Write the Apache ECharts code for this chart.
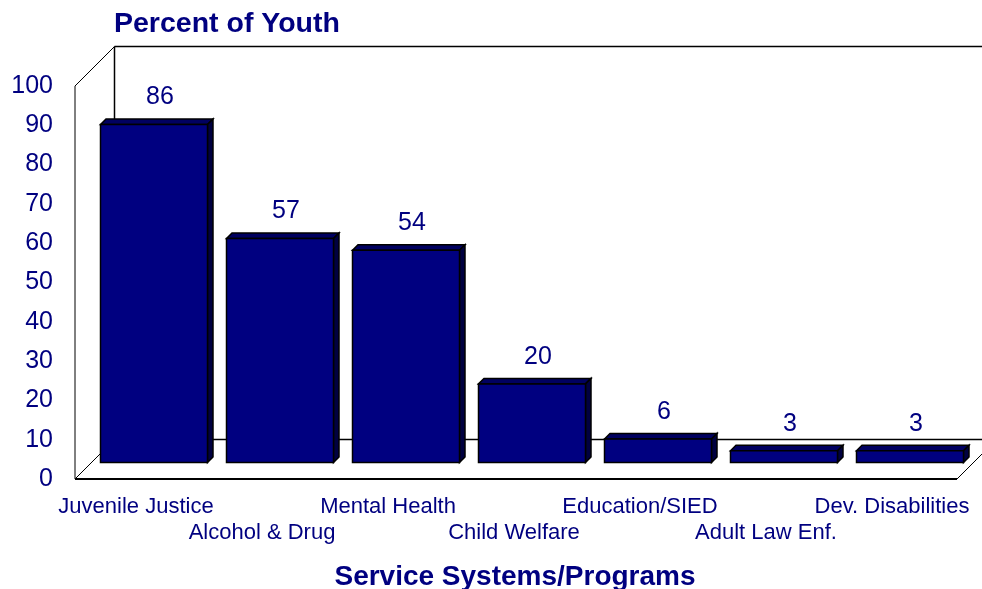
<!DOCTYPE html>
<html><head><meta charset="utf-8">
<style>html,body{margin:0;padding:0;background:#fff}#c{width:982px;height:589px}</style>
<script src="https://cdn.jsdelivr.net/npm/echarts@6/dist/echarts.min.js"></script>
</head><body><div id="c"></div>
<script>
const categories = ['Juvenile Justice','Alcohol & Drug','Mental Health','Child Welfare','Education/SIED','Adult Law Enf.','Dev. Disabilities'];
const values = [86,57,54,20,6,3,3];
const yTicks = [0,10,20,30,40,50,60,70,80,90,100];
const NAVY='#000080', TEXT='#000080';
const DEPTH=39.5, MID_X=16, MID_Y=16.5, BAR_D=5.5, BAR_W=107;
const chart = echarts.init(document.getElementById('c'),null,{renderer:'canvas'});
function frame(params,api){
  const band=api.size([1,0])[0];
  const x0=api.coord([0,0])[0]-band/2, x1=api.coord([categories.length-1,0])[0]+band/2;
  const y0=api.coord([0,0])[1], yt=api.coord([0,100])[1];
  const line=(a,b,c,d,w)=>({type:'line',shape:{x1:a,y1:b,x2:c,y2:d},style:{stroke:'#000',lineWidth:w}});
  return {type:'group',children:[
    line(x0,y0,x0,yt,1),
    line(x0,yt,x0+DEPTH,yt-DEPTH,1),
    line(x0+DEPTH,yt-DEPTH,x0+DEPTH,y0-DEPTH,1.5),
    line(x0+DEPTH,yt-DEPTH,x1+DEPTH,yt-DEPTH,1.5),
    line(x0+DEPTH,y0-DEPTH,x1+DEPTH,y0-DEPTH,1.5),
    line(x0,y0,x0+DEPTH,y0-DEPTH,1),
    line(x1,y0,x1+DEPTH,y0-DEPTH,1),
    line(x0,y0,x1,y0,2)
  ]};
}
function bar(params,api){
  const i=api.value(0), v=api.value(1);
  const c=api.coord([i,v]), b=api.coord([i,0]);
  const l=c[0]-BAR_W/2+MID_X, r=l+BAR_W, t=c[1]-MID_Y, bt=b[1]-MID_Y, d=BAR_D;
  const st=(f)=>({fill:f,stroke:'#000',lineWidth:1.5,lineJoin:'miter'});
  return {type:'group',children:[
    {type:'polygon',shape:{points:[[l,t],[l+d,t-d],[r+d,t-d],[r,t]]},style:st('#000060')},
    {type:'polygon',shape:{points:[[r,t],[r+d,t-d],[r+d,bt-d],[r,bt]]},style:st('#000040')},
    {type:'rect',shape:{x:l,y:t,width:BAR_W,height:bt-t},style:st(NAVY)},
    {type:'text',style:{text:String(v),x:l+BAR_W/2+6,y:t-27,align:'center',verticalAlign:'middle',fill:TEXT,font:'25px "Liberation Sans",Arial,sans-serif'}}
  ]};
}
chart.setOption({
  animation:false,
  backgroundColor:'#fff',
  textStyle:{fontFamily:'"Liberation Sans",Arial,sans-serif'},
  title:[
    {text:'Percent of Youth',left:109,top:5,textStyle:{color:TEXT,fontSize:28.5,fontWeight:'bold'}},
    {text:'Service Systems/Programs',left:510,textAlign:'center',top:558,textStyle:{color:TEXT,fontSize:28,fontWeight:'bold'}}
  ],
  grid:{left:75,top:86,width:882,height:393,containLabel:false},
  xAxis:{type:'category',data:categories,axisLine:{show:false},axisTick:{show:false},splitLine:{show:false},
    axisLabel:{interval:0,color:TEXT,fontSize:22,lineHeight:26,margin:15,hideOverlap:false,padding:[0,4,0,0],
      formatter:(s,i)=>i%2?'\n'+s:s}},
  yAxis:{type:'value',min:0,max:100,interval:10,axisLine:{show:false},axisTick:{show:false},splitLine:{show:false},
    axisLabel:{color:TEXT,fontSize:25,margin:22,padding:[3,0,0,0],formatter:v=>yTicks.includes(v)?String(v):''}},
  series:[
    {type:'custom',data:[[0,0]],renderItem:frame,clip:false,silent:true,z:1},
    {type:'custom',data:values.map((v,i)=>[i,v]),renderItem:bar,clip:false,z:2,encode:{x:0,y:1}}
  ]
});
</script></body></html>
